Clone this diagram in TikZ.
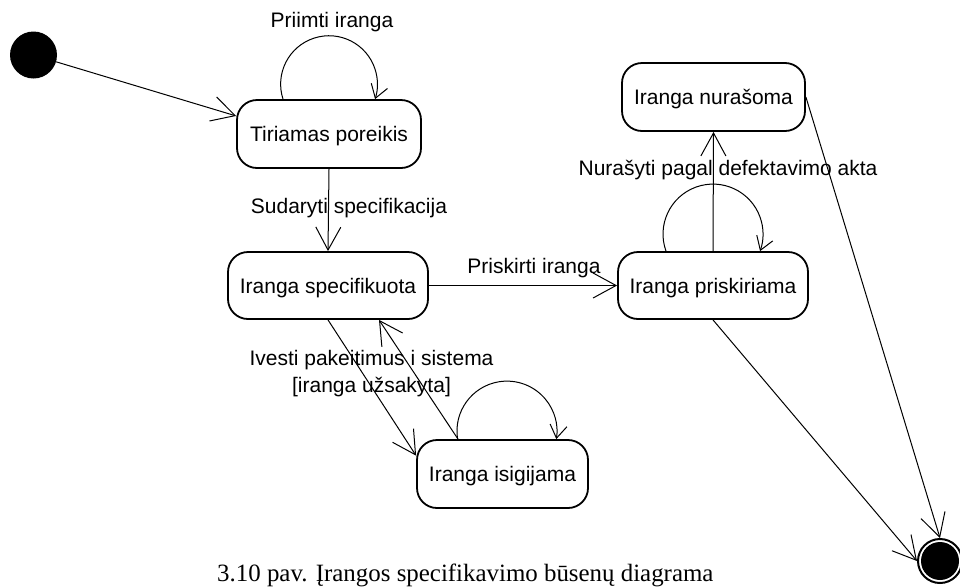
\documentclass[tikz,border=0pt]{standalone}
\usepackage{fontspec}
\setmainfont{Liberation Sans}
\newfontfamily\captionserif{Liberation Serif}
\usetikzlibrary{arrows.meta}
\begin{document}
\begin{tikzpicture}[x=1pt,y=-1pt,
  every node/.style={font=\fontsize{21}{27}\selectfont},
  state/.style={draw, line width=1.8pt, rounded corners=20pt, inner sep=0pt,
                text height=15pt, text depth=0pt},
  conn/.style={line width=1pt, -{Straight Barb[length=23pt,width=25pt]}},
  selfloop/.style={line width=1pt, -{Straight Barb[length=13pt,width=17pt]}},
  lbl/.style={anchor=base, inner sep=0pt},
]
\useasboundingbox (0,0) rectangle (960,587);

% initial and final pseudo-states
\node[circle, fill=black, minimum size=47pt, inner sep=0pt] (start) at (33.5,55) {};
\node[circle, draw, line width=2pt, minimum size=44pt, inner sep=0pt,
      path picture={\fill (path picture bounding box.center) circle (19pt);}]
      (fin) at (940,561) {};

% states
\node[state, minimum width=184pt, minimum height=68pt] (tir)   at (329,134)   {Tiriamas poreikis};
\node[state, minimum width=200pt, minimum height=67pt] (spec)  at (328,285.5) {Iranga specifikuota};
\node[state, minimum width=171pt, minimum height=68pt] (isig)  at (502.5,474) {Iranga isigijama};
\node[state, minimum width=190pt, minimum height=67pt] (prisk) at (713,285.5) {Iranga priskiriama};
\node[state, minimum width=183pt, minimum height=68pt] (nura)  at (713.5,97)  {Iranga nurašoma};

% transitions
\draw[conn] (start) -- (tir.169.5);
\draw[conn] (tir.south) -- (spec.north);
\draw[conn] (spec.east) -- (prisk.west);
\draw[conn] (spec.south) -- (isig.168.8);
\draw[conn] ([xshift=-44.5pt]isig.north) -- ([xshift=51pt]spec.south);
\draw[conn] (prisk.north) -- (nura.south);
\draw[conn] (nura.east) -- (fin.north);
\draw[conn] (prisk.south) -- (fin.west);

% self transitions
\draw[selfloop] ([xshift=-46pt]tir.north) arc[start angle=162, end angle=378, radius=48.4];
\draw[selfloop] ([xshift=-44.9pt]isig.north) arc[start angle=170.8, end angle=369.2, radius=50];
\draw[selfloop] ([xshift=-47pt]prisk.north) arc[start angle=160.1, end angle=379.9, radius=50];

% transition labels
\node[lbl] (lpriimti) at (332,27)  {Priimti iranga};
\node[lbl] (lsud)     at (349,213) {Sudaryti specifikacija};
\node[lbl] (lprisk)   at (534,273) {Priskirti iranga};
\node[lbl] (lnur)     at (728,175) {Nurašyti pagal defektavimo akta};
\node[lbl, align=center] (livesti) at (371.5,392)
  {Ivesti pakeitimus i sistema\\{}[iranga užsakyta]};

% caption
\node[anchor=base west, inner sep=0pt,
      font=\captionserif\fontsize{24.9}{30}\selectfont] (caption) at (217,581)
  {3.10 pav. Įrangos specifikavimo būsenų diagrama};
\end{tikzpicture}
\end{document}
